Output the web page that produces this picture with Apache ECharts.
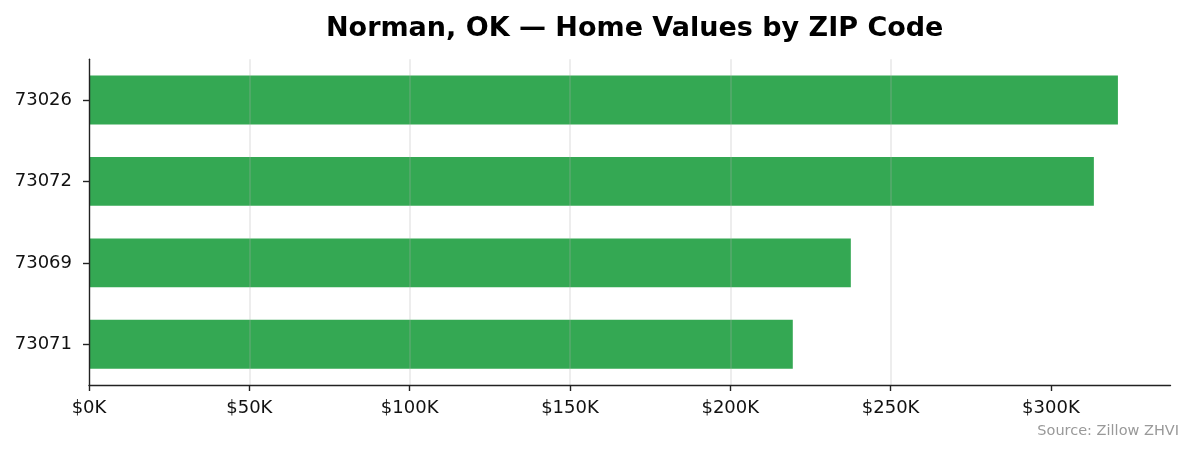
<!DOCTYPE html>
<html>
<head>
<meta charset="utf-8">
<script src="https://cdn.jsdelivr.net/npm/echarts@6/dist/echarts.min.js"></script>
<style>
  html, body { margin: 0; padding: 0; background: #fff; }
  #chart { width: 1195px; height: 455px; }
</style>
</head>
<body>
<div id="chart"></div>
<script>
// ZIP codes, top to bottom
const zips = ["73026", "73072", "73069", "73071"];
// home values (ZHVI, dollars)
const homeValues = [320900, 313400, 237600, 219500];
// x axis tick values
const xTicks = [0, 50000, 100000, 150000, 200000, 250000, 300000];

const textColor = "#111";
const lineColor = "#222";
const font = "DejaVu Sans";

const myChart = echarts.init(document.getElementById("chart"));

const option = {
  backgroundColor: "#fff",
  animation: false,
  title: {
    text: "Norman, OK — Home Values by ZIP Code",
    left: 629.7,
    textAlign: "center",
    top: 10,
    textStyle: {
      fontFamily: font,
      fontSize: 27,
      fontWeight: "bold",
      color: "#000",
    },
  },
  grid: {
    left: 89,
    right: 24.5,
    top: 59.3,
    bottom: 70,
  },
  xAxis: {
    type: "value",
    min: 0,
    max: 337300,
    z: 5,
    axisLine: { show: true, lineStyle: { color: lineColor, width: 1.4 } },
    axisTick: {
      show: true,
      length: 6,
      customValues: xTicks,
      lineStyle: { color: lineColor, width: 1.4 },
    },
    axisLabel: {
      customValues: xTicks,
      margin: 14,
      fontFamily: font,
      fontSize: 18,
      color: textColor,
      formatter: (v) => "$" + Math.round(v / 1000) + "K",
    },
    splitLine: {
      show: true,
      showMinLine: false,
      showMaxLine: false,
      lineStyle: { color: "rgba(176,176,176,0.3)", width: 1.5 },
    },
    interval: 50000,
  },
  yAxis: {
    type: "category",
    data: zips,
    inverse: true,
    z: 5,
    axisLine: { show: true, lineStyle: { color: lineColor, width: 1.4 } },
    axisTick: {
      show: true,
      alignWithLabel: true,
      length: 6,
      lineStyle: { color: lineColor, width: 1.4 },
    },
    axisLabel: {
      margin: 17,
      fontFamily: font,
      fontSize: 18,
      color: textColor,
    },
    splitLine: { show: false },
  },
  series: [
    {
      name: "Home value",
      type: "bar",
      data: homeValues,
      barWidth: "60%",
      itemStyle: { color: "#34a853" },
    },
  ],
  graphic: [
    {
      type: "text",
      right: 16,
      top: 424,
      style: {
        text: "Source: Zillow ZHVI",
        fontFamily: font,
        fontSize: 14.5,
        fill: "#999",
      },
    },
  ],
};

myChart.setOption(option);
</script>
</body>
</html>
